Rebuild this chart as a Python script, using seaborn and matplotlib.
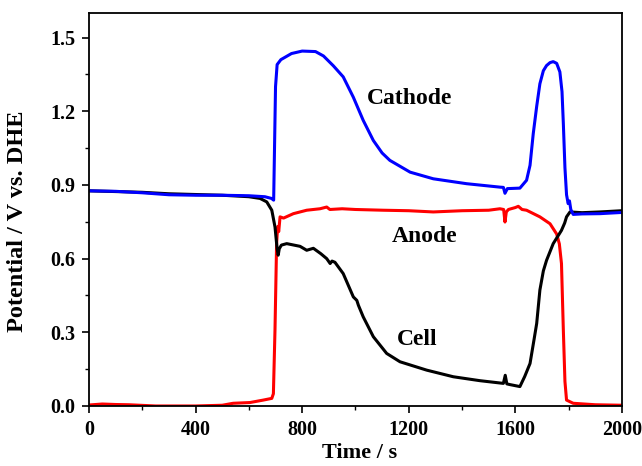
import numpy as np
import pandas as pd
import matplotlib
matplotlib.use("Agg")
import matplotlib.pyplot as plt
from matplotlib.ticker import MultipleLocator
import seaborn as sns

# ---- data ----
cathode_t = [0, 100, 200, 300, 400, 500, 600, 660, 685, 693, 700, 706, 720, 760, 800, 850, 880, 917, 954,
             992, 1029, 1067, 1100, 1129, 1205, 1292, 1417, 1542, 1555, 1561, 1570, 1617, 1642, 1655, 1667,
             1680, 1692, 1705, 1717, 1730, 1742, 1755, 1767, 1775, 1780, 1786, 1792, 1798, 1803, 1808, 1817,
             1850, 1917, 2000]
cathode_v = [0.876, 0.874, 0.868, 0.860, 0.858, 0.858, 0.856, 0.852, 0.845, 0.838, 1.30, 1.39, 1.41, 1.435,
             1.445, 1.443, 1.425, 1.385, 1.34, 1.257, 1.163, 1.081, 1.03, 1.0, 0.952, 0.925, 0.905, 0.891,
             0.89, 0.866, 0.885, 0.887, 0.919, 0.98, 1.108, 1.22, 1.312, 1.365, 1.386, 1.398, 1.402, 1.395,
             1.36, 1.28, 1.15, 0.97, 0.86, 0.824, 0.835, 0.80, 0.78, 0.782, 0.783, 0.788]

cell_t = [0, 200, 300, 400, 500, 600, 642, 667, 686, 698, 706, 710, 714, 722, 742, 792, 817, 842, 870, 892,
          905, 912, 923, 954, 992, 1005, 1011, 1029, 1067, 1117, 1167, 1267, 1367, 1467, 1555, 1562, 1568,
          1580, 1617, 1635, 1655, 1670, 1680, 1692, 1705, 1717, 1742, 1773, 1785, 1792, 1805, 1850, 1917, 2000]
cell_v = [0.876, 0.870, 0.864, 0.861, 0.858, 0.852, 0.845, 0.831, 0.797, 0.729, 0.64, 0.614, 0.64, 0.655,
          0.661, 0.650, 0.634, 0.642, 0.62, 0.60, 0.58, 0.59, 0.585, 0.539, 0.444, 0.43, 0.41, 0.363, 0.282,
          0.214, 0.180, 0.146, 0.119, 0.103, 0.092, 0.125, 0.09, 0.087, 0.079, 0.12, 0.173, 0.27, 0.336,
          0.472, 0.55, 0.593, 0.661, 0.715, 0.745, 0.77, 0.79, 0.787, 0.79, 0.795]

anode_t = [0, 50, 100, 150, 250, 400, 500, 541, 604, 654, 686, 692, 698, 704, 708, 712, 717, 730, 767, 817,
           867, 892, 904, 950, 1000, 1104, 1200, 1292, 1400, 1500, 1542, 1556, 1561, 1566, 1574, 1600, 1611,
           1625, 1642, 1692, 1730, 1755, 1765, 1773, 1780, 1786, 1792, 1817, 1900, 2000]
anode_v = [0.004, 0.008, 0.006, 0.005, 0.0, 0.0, 0.003, 0.011, 0.014, 0.024, 0.031, 0.05, 0.31, 0.66, 0.73,
           0.71, 0.77, 0.765, 0.783, 0.797, 0.803, 0.81, 0.80, 0.803, 0.80, 0.797, 0.795, 0.79, 0.795, 0.797,
           0.803, 0.80, 0.749, 0.79, 0.80, 0.808, 0.813, 0.80, 0.797, 0.77, 0.742, 0.70, 0.66, 0.58, 0.309,
           0.1, 0.024, 0.011, 0.005, 0.003]

x_ticks = [0, 400, 800, 1200, 1600, 2000]
y_ticks = [0.0, 0.3, 0.6, 0.9, 1.2, 1.5]

sns.set_style("ticks")
plt.rcParams['font.family'] = ['Liberation Serif', 'DejaVu Serif']
plt.rcParams['font.weight'] = 'bold'
plt.rcParams['text.color'] = 'black'
plt.rcParams['axes.labelcolor'] = 'black'
plt.rcParams['xtick.color'] = 'black'
plt.rcParams['ytick.color'] = 'black'

fig = plt.figure(figsize=(6.42, 4.66), dpi=100)
ax = fig.add_axes([0.1386, 0.1288, 0.8302, 0.8433])

df = pd.concat([
    pd.DataFrame({"t": cathode_t, "v": cathode_v, "s": "Cathode"}),
    pd.DataFrame({"t": anode_t, "v": anode_v, "s": "Anode"}),
    pd.DataFrame({"t": cell_t, "v": cell_v, "s": "Cell"}),
])
palette = {"Cathode": "#0000ff", "Anode": "#ff0000", "Cell": "#000000"}
for name in ["Anode", "Cell", "Cathode"]:
    sub = df[df.s == name]
    sns.lineplot(data=sub, x="t", y="v", color=palette[name], lw=2.2, sort=False,
                 estimator=None, ax=ax, legend=False)

ax.set_xlim(0, 2000)
ax.set_ylim(0, 1.6)
ax.set_xticks(x_ticks)
ax.set_yticks(y_ticks)
ax.set_xticklabels([str(v) for v in x_ticks])
ax.set_yticklabels([f"{v:.1f}" for v in y_ticks])
ax.xaxis.set_minor_locator(MultipleLocator(200))
ax.yaxis.set_minor_locator(MultipleLocator(0.15))
ax.tick_params(axis='both', which='major', direction='out', length=5, width=1.2,
               labelsize=14.5, top=False, right=False, colors='black', pad=5)
ax.tick_params(axis='both', which='minor', direction='out', length=3, width=1.0,
               top=False, right=False, colors='black')
for lab in ax.get_xticklabels() + ax.get_yticklabels():
    lab.set_fontweight('bold')
for sp in ax.spines.values():
    sp.set_visible(True)
    sp.set_linewidth(1.3)
    sp.set_color('black')

ax.set_xlabel("Time / s", fontsize=16, fontweight='bold')
ax.set_ylabel("Potential / V vs. DHE", fontsize=17.5, fontweight='bold')
ax.xaxis.set_label_coords(0.507, -0.095)
ax.yaxis.set_label_coords(-0.115, 0.47)

ax.text(1204, 1.25, "Cathode", fontsize=17, fontweight='bold', ha='center', va='center')
ax.text(1261, 0.688, "Anode", fontsize=17, fontweight='bold', ha='center', va='center')
ax.text(1233, 0.27, "Cell", fontsize=17, fontweight='bold', ha='center', va='center')

fig.savefig("out.png", dpi=100)
